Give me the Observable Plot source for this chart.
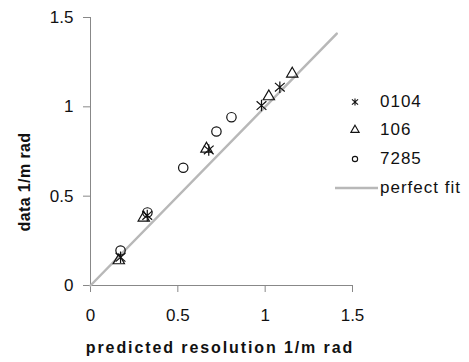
<!DOCTYPE html>
<html><head><meta charset="utf-8">
<script src="https://cdn.jsdelivr.net/npm/d3@7"></script>
<script src="https://cdn.jsdelivr.net/npm/@observablehq/plot@0.6"></script>
<style>
body{margin:0;background:#fff;}
#wrap{position:relative;width:469px;height:362px;font-family:"Liberation Sans",Arial,sans-serif;overflow:hidden;}
.leg{position:absolute;left:0;top:0;height:20px;display:flex;align-items:center;font-size:17px;letter-spacing:1px;color:#111;}
.leg svg{overflow:visible}
.title{position:absolute;font-size:16px;font-weight:bold;color:#111;white-space:nowrap;line-height:20px;}
#xt{left:0;width:440px;top:338px;text-align:center;letter-spacing:1.9px;}
#yt{left:25px;top:182px;letter-spacing:0.4px;transform:translate(-50%,-50%) rotate(-90deg);}
</style></head><body><div id="wrap"></div>
<script>
// ---- data ----
const seriesNames = ["0104", "106", "7285"];
const x0104 = [0.172, 0.325, 0.677, 0.979, 1.084];
const y0104 = [0.158, 0.392, 0.759, 1.007, 1.110];
const x106  = [0.162, 0.305, 0.664, 1.021, 1.155];
const y106  = [0.140, 0.379, 0.765, 1.058, 1.185];
const x7285 = [0.172, 0.326, 0.531, 0.721, 0.807];
const y7285 = [0.196, 0.409, 0.659, 0.862, 0.942];
const fitX = [0, 1.41];
const fitLabel = "perfect fit";
const xTicks = [0, 0.5, 1, 1.5];
const yTicks = [0, 0.5, 1, 1.5];
const xTitle = "predicted resolution 1/m rad";
const yTitle = "data 1/m rad";

// custom asterisk: vertical bar + X
const asterisk = {
  draw(ctx, size) {
    const r = Math.sqrt(size / Math.PI) * 1.25;
    ctx.moveTo(0, -r); ctx.lineTo(0, r);
    const a = r * 0.85, b = r * 0.75;
    ctx.moveTo(-a, -b); ctx.lineTo(a, b);
    ctx.moveTo(-a, b); ctx.lineTo(a, -b);
  }
};
const symbols = {"0104": asterisk, "106": d3.symbolTriangle, "7285": d3.symbolCircle};
const radii = {"0104": 4.6, "106": 4.2, "7285": 4.7};

const pts = [];
[[x0104, y0104], [x106, y106], [x7285, y7285]].forEach(([xs, ys], i) => {
  xs.forEach((x, j) => pts.push({series: seriesNames[i], x, y: ys[j]}));
});
const fit = fitX.map(v => ({x: v, y: v}));

const chart = Plot.plot({
  width: 469, height: 362,
  marginLeft: 90, marginRight: 117, marginTop: 17, marginBottom: 77,
  style: {fontFamily: '"Liberation Sans", Arial, sans-serif', background: "#fff", overflow: "visible"},
  x: {domain: [0, 1.5]},
  y: {domain: [0, 1.5]},
  marks: [
    Plot.axisX({ticks: xTicks, tickFormat: d => String(d), tickSize: 7, tickPadding: 16, fontSize: 17, stroke: "#888", color: "#111", label: null}),
    Plot.axisY({ticks: yTicks, tickFormat: d => String(d), tickSize: 7, tickPadding: 10, fontSize: 17, stroke: "#888", color: "#111", label: null}),
    Plot.ruleY([0], {stroke: "#888"}),
    Plot.ruleX([0], {stroke: "#888"}),
    Plot.line(fit, {x: "x", y: "y", stroke: "#b8b8b8", strokeWidth: 2.5}),
    ...seriesNames.map(s => Plot.dot(pts.filter(d => d.series === s), {x: "x", y: "y", symbol: symbols[s], r: radii[s], stroke: "#111", strokeWidth: 1.2, fill: "none"}))
  ]
});
const wrap = document.getElementById("wrap");
wrap.appendChild(chart);

const xt = document.createElement("div"); xt.id = "xt"; xt.className = "title"; xt.textContent = xTitle; wrap.appendChild(xt);
const yt = document.createElement("div"); yt.id = "yt"; yt.className = "title"; yt.textContent = yTitle; wrap.appendChild(yt);

// legend
const rows = [...seriesNames, fitLabel];
const rowTop = [92, 120, 149, 178];
const legSizes = {"0104": 26, "106": 30, "7285": 22};
rows.forEach((name, i) => {
  const div = document.createElement("div");
  div.className = "leg";
  div.style.top = rowTop[i] + "px";
  div.style.left = "335px";
  const svg = d3.create("svg").attr("width", 45).attr("height", 20);
  if (i < 3) {
    svg.append("path").attr("transform", "translate(20,10)")
      .attr("d", d3.symbol(symbols[name], legSizes[name])())
      .attr("fill", "none").attr("stroke", "#111").attr("stroke-width", 1.1);
  } else {
    svg.append("line").attr("x1", 0).attr("x2", 43).attr("y1", 10).attr("y2", 10)
      .attr("stroke", "#b8b8b8").attr("stroke-width", 2.5);
  }
  div.appendChild(svg.node());
  const span = document.createElement("span");
  span.textContent = name;
  div.appendChild(span);
  wrap.appendChild(div);
});
</script></body></html>
